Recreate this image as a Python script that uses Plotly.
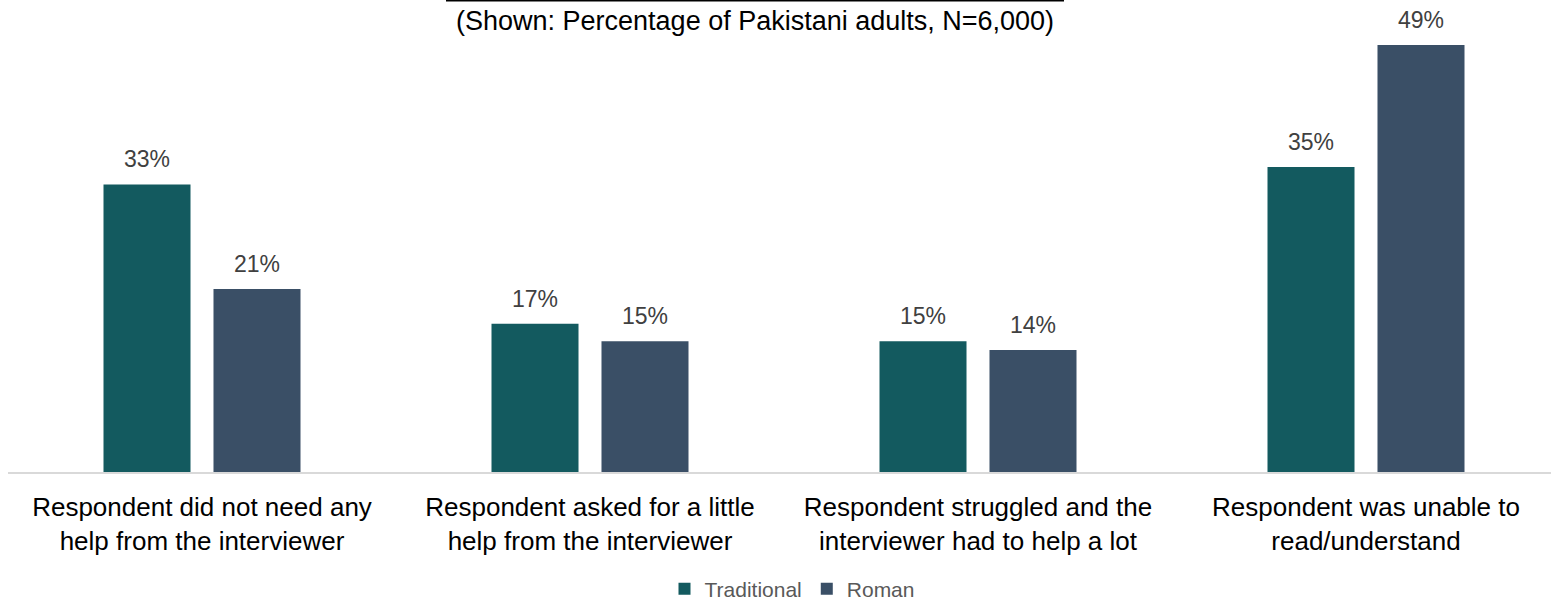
import plotly.graph_objects as go

# Survey categories (tick labels, wrapped onto two lines)
categories = [
    "Respondent did not need any<br>help from the interviewer",
    "Respondent asked for a little<br>help from the interviewer",
    "Respondent struggled and the<br>interviewer had to help a lot",
    "Respondent was unable to<br>read/understand",
]
series_names = ["Traditional", "Roman"]
traditional = [33, 17, 15, 35]
roman = [21, 15, 14, 49]

colors = {"Traditional": "#135a5f", "Roman": "#3a4f66"}
FONT = "Arial, Liberation Sans, sans-serif"

W, H = 1551, 603
ML, MR, MT, MB = 8, 0, 0, 131
plot_w = W - ML - MR
plot_h = H - MT - MB
cat_px = 388.0          # width of one category band
px_per_pct = 8.714      # vertical scale

fig = go.Figure()
for name, vals in zip(series_names, [traditional, roman]):
    fig.add_trace(go.Bar(
        name=name,
        x=list(range(len(categories))),
        y=vals,
        marker=dict(color=colors[name], line=dict(width=0)),
        hoverinfo="skip",
    ))

# value labels above each bar
for k, (name, vals) in enumerate(zip(series_names, [traditional, roman])):
    shift = -55 if k == 0 else 55
    for i, v in enumerate(vals):
        fig.add_annotation(
            x=i, y=v, xref="x", yref="y",
            text=f"{v}%", showarrow=False,
            xshift=shift, yshift=25, yanchor="middle",
            font=dict(family=FONT, size=23, color="#404040"),
        )

# subtitle
fig.add_annotation(
    x=(754.5 - ML) / plot_w, y=1 - 21 / plot_h, xref="paper", yref="paper",
    text="(Shown: Percentage of Pakistani adults, N=6,000)",
    showarrow=False, xanchor="center", yanchor="middle",
    font=dict(family=FONT, size=27, color="#000000"),
)

# rule above the subtitle
fig.add_shape(
    type="line", xref="paper", yref="paper",
    x0=(446 - ML) / plot_w, x1=(1064 - ML) / plot_w, y0=1.0, y1=1.0,
    line=dict(color="#000000", width=3),
)

fig.update_layout(
    width=W, height=H,
    margin=dict(l=ML, r=MR, t=MT, b=MB, pad=0, autoexpand=False),
    paper_bgcolor="white", plot_bgcolor="white",
    barmode="group", bargap=0.433, bargroupgap=0.209,
    showlegend=True,
    legend=dict(
        orientation="h", x=(792 - ML) / plot_w, xanchor="center",
        y=-(589 - 472) / plot_h, yanchor="middle",
        font=dict(family=FONT, size=21, color="#595959"),
        itemsizing="constant", traceorder="normal",
    ),
    xaxis=dict(
        range=[-0.5, -0.5 + plot_w / cat_px],
        tickmode="array", tickvals=list(range(len(categories))), ticktext=categories,
        tickfont=dict(family=FONT, size=26, color="#000000"),
        showgrid=False, zeroline=False,
        showline=True, linecolor="#d9d9d9", linewidth=2,
        ticks="", ticklabelstandoff=11, automargin=False,
    ),
    yaxis=dict(
        range=[0, plot_h / px_per_pct],
        visible=False, showgrid=False, zeroline=False,
    ),
)

fig.write_html("out.html")
